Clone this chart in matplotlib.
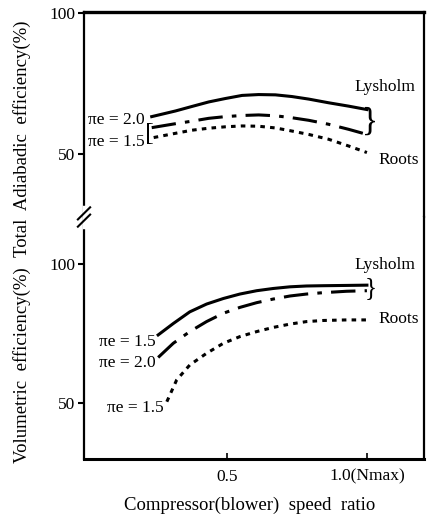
import matplotlib
matplotlib.use("Agg")
import matplotlib.pyplot as plt

plt.rcParams['font.family'] = ['Liberation Serif', 'DejaVu Serif']

# ---- data ----
# Total adiabatic efficiency (%)
ad_x = [0.231, 0.316, 0.375, 0.435, 0.494, 0.554, 0.613, 0.673, 0.732, 0.792, 0.863, 0.935, 1.0]
ad_lys20_y = [63.3, 65.3, 66.9, 68.5, 69.7, 70.8, 71.1, 71.0, 70.4, 69.5, 68.2, 67.0, 65.8]
ad_lys15_y = [59.4, 60.8, 61.7, 62.7, 63.3, 63.7, 63.9, 63.6, 62.9, 62.0, 60.6, 58.8, 57.0]
ad_roots_x = [0.238, 0.316, 0.375, 0.435, 0.494, 0.554, 0.613, 0.673, 0.732, 0.792, 0.863, 0.935, 1.0]
ad_roots_y = [55.9, 57.4, 58.5, 59.2, 59.7, 60.0, 59.9, 59.3, 58.2, 57.0, 55.3, 52.9, 50.6]

# Volumetric efficiency (%)
vol_x = [0.254, 0.308, 0.367, 0.427, 0.487, 0.546, 0.606, 0.665, 0.725, 0.784, 0.844, 0.927, 1.0]
vol_lys15_y = [74.5, 78.6, 82.8, 85.6, 87.6, 89.2, 90.4, 91.2, 91.8, 92.1, 92.2, 92.3, 92.4]
vol_lys20_y = [66.4, 71.5, 75.7, 79.3, 82.3, 84.4, 86.1, 87.4, 88.5, 89.2, 89.7, 90.2, 90.4]
vol_roots_x = [0.285, 0.320, 0.367, 0.427, 0.487, 0.546, 0.606, 0.665, 0.725, 0.784, 0.844, 0.927, 1.0]
vol_roots_y = [50.5, 58.3, 63.7, 67.9, 71.5, 73.9, 75.7, 77.2, 78.4, 79.3, 79.7, 79.9, 79.9]

x_ticks = [0.5, 1.0]
x_ticklabels = ['0.5', '1.0(Nmax)']
y_ticks = [50, 100]
y_ticklabels = ['50', '100']

W, H = 446, 521
fig = plt.figure(figsize=(W / 100, H / 100), dpi=100)

left = 84 / W
width = (424 - 84) / W
ax_top = fig.add_axes([left, 1 - 217 / H, width, (217 - 12) / H])
ax_bot = fig.add_axes([left, 1 - 459 / H, width, (459 - 217) / H])

xlim = (-0.011, 1.204)
for ax in (ax_top, ax_bot):
    ax.set_xlim(*xlim)
    ax.set_yticks(y_ticks)
    ax.set_yticklabels(y_ticklabels)
    ax.tick_params(axis='y', direction='out', length=4, width=1.5, labelsize=12.5, pad=2)
    for s in ax.spines.values():
        s.set_linewidth(1.6)

ax_top.set_ylim(27.8, 100.3)
ax_bot.set_ylim(29.9, 116.9)

ax_top.spines['bottom'].set_visible(False)
ax_top.set_xticks([])
ax_top.spines['top'].set_linewidth(2.4)
ax_bot.spines['top'].set_visible(False)
ax_bot.spines['bottom'].set_linewidth(2.2)
ax_bot.set_xticks(x_ticks)
ax_bot.set_xticklabels(x_ticklabels)
ax_bot.tick_params(axis='x', direction='in', length=4, width=1.2, labelsize=12.5, pad=7)

lw = 2.2
solid = '-'
dashdot = (0, (8, 3, 1.5, 3))
dotted = (0, (1.5, 1.7))

ax_top.plot(ad_x, ad_lys20_y, color='black', lw=lw, ls=solid)
ax_top.plot(ad_x, ad_lys15_y, color='black', lw=lw, ls=dashdot)
ax_top.plot(ad_roots_x, ad_roots_y, color='black', lw=lw, ls=dotted)

ax_bot.plot(vol_x, vol_lys15_y, color='black', lw=lw, ls=solid)
ax_bot.plot(vol_x, vol_lys20_y, color='black', lw=lw, ls=dashdot)
ax_bot.plot(vol_roots_x, vol_roots_y, color='black', lw=lw, ls=dotted)

fs = 12.5
# annotations top
ax_top.text(0.205, 62.0, 'πe = 2.0', ha='right', va='center', fontsize=fs)
ax_top.text(0.205, 54.2, 'πe = 1.5', ha='right', va='center', fontsize=fs)
ax_top.text(0.222, 57.3, '[', ha='center', va='center', fontsize=19)
ax_top.text(1.012, 61.6, '}', ha='center', va='center', fontsize=24)
ax_top.text(0.957, 73.6, 'Lysholm', ha='left', va='center', fontsize=fs)
ax_top.text(1.04, 47.9, 'Roots', ha='left', va='center', fontsize=fs)

# annotations bottom
ax_bot.text(0.245, 71.9, 'πe = 1.5', ha='right', va='center', fontsize=fs)
ax_bot.text(0.245, 64.4, 'πe = 2.0', ha='right', va='center', fontsize=fs)
ax_bot.text(0.275, 48.2, 'πe = 1.5', ha='right', va='center', fontsize=fs)
ax_bot.text(1.012, 91.3, '}', ha='center', va='center', fontsize=18)
ax_bot.text(0.957, 99.6, 'Lysholm', ha='left', va='center', fontsize=fs)
ax_bot.text(1.04, 80.2, 'Roots', ha='left', va='center', fontsize=fs)

# axis break marks on left spine
ax_bot.plot([0, 0], [0.96, 1.04], transform=ax_bot.transAxes, color='white',
            lw=2.5, clip_on=False, zorder=3)
for dy in (-0.015, 0.015):
    ax_bot.plot([-0.018, 0.018], [1.0 + dy - 0.025, 1.0 + dy + 0.025],
                transform=ax_bot.transAxes, color='black', lw=1.5, clip_on=False, zorder=4)

fig.text(22 / W, 1 - 365 / H, 'Volumetric  efficiency(%)', rotation=90,
         ha='center', va='center', fontsize=13.5)
fig.text(22 / W, 1 - 139 / H, 'Total  Adiabadic  efficiency(%)', rotation=90,
         ha='center', va='center', fontsize=13.5)
fig.text(250 / W, 1 - 505 / H, 'Compressor(blower)  speed  ratio',
         ha='center', va='center', fontsize=13.5)

fig.savefig('out.png', dpi=100)
